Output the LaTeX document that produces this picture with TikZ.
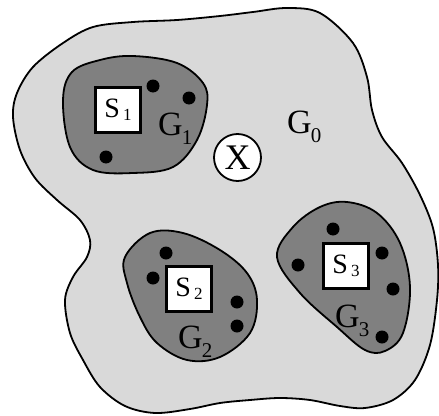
\documentclass[tikz,border=0pt]{standalone}
\usepackage{fontspec}
\setmainfont{Liberation Serif}
\usetikzlibrary{positioning}

\tikzset{
  region/.style={draw,line width=1.8pt},
  srcbox/.style={draw,line width=3.5pt,fill=white,minimum size=45pt,inner sep=0pt,font=\fontsize{28}{28}\selectfont},
  dot/.style={circle,fill=black,minimum size=13pt,inner sep=0pt},
  glabel/.style={font=\fontsize{34}{34}\selectfont,inner sep=0pt,anchor=base west},
}
\newcommand{\gname}[1]{G\kern-1pt\raisebox{-9pt}{\fontsize{21}{21}\selectfont #1}}
\newcommand{\sname}[1]{S\kern3pt\raisebox{-3pt}{\fontsize{17}{17}\selectfont #1}}

\begin{document}
\begin{tikzpicture}[x=1pt,y=-1pt]
  \useasboundingbox (0,0) rectangle (439,415);

  % Outer region G0
  \draw[region,fill=black!15] plot[smooth cycle,tension=0.55] coordinates {
    (13,117) (17,93) (33,67) (63,43) (93,27) (133,22) (177,20) (220,16)
    (253,12) (287,8) (320,13) (353,43) (367,77) (372,110) (382,137)
    (402,163) (420,195) (433,228) (438,265) (437,300) (430,345) (415,380)
    (393,400) (365,408) (340,406) (310,400) (280,398) (250,400) (220,403)
    (190,409) (155,413) (125,406) (100,387) (83,360) (70,333) (65,300)
    (73,277) (87,257) (90,240) (80,220) (57,200) (35,178) (20,150)};

  % Inner regions
  \draw[region,fill=black!50] plot[smooth cycle,tension=0.6] coordinates {
    (63,100) (72,72) (100,60) (133,56) (177,63) (203,83) (207,105)
    (197,140) (173,167) (133,173) (93,170) (70,147)};
  \draw[region,fill=black!50] plot[smooth cycle,tension=0.6] coordinates {
    (125,257) (150,233) (183,233) (220,250) (247,273) (257,300) (250,333)
    (220,357) (187,360) (157,343) (140,317) (127,283)};
  \draw[region,fill=black!50] plot[smooth cycle,tension=0.6] coordinates {
    (277,257) (293,227) (320,207) (347,202) (377,213) (400,243) (410,287)
    (403,333) (385,351) (365,350) (337,327) (300,293)};

  % Boxes and the centre node
  \node[srcbox] (s1) at (118,110) {\sname{1}};
  \node[srcbox] (s2) at (189,289) {\sname{2}};
  \node[srcbox] (s3) at (346,266) {\sname{3}};
  \node[draw,circle,line width=1.8pt,fill=white,minimum size=47pt,inner sep=0pt,
        font=\fontsize{36}{36}\selectfont] (x) at (237.5,157.5) {X};

  % Dots
  \foreach \name/\pos in {d11/{(153,86)},d12/{(189,98)},d13/{(106,157)},
      d21/{(166,253)},d22/{(153,278)},d23/{(237,302)},d24/{(237,326)},
      d31/{(333,229)},d32/{(298,265)},d33/{(382,253)},d34/{(393,289)},d35/{(382,337)}}
    \node[dot] (\name) at \pos {};

  % Labels
  \node[glabel] (g0) at (287,133) {\gname{0}};
  \node[glabel] (g1) at (158,135) {\gname{1}};
  \node[glabel] (g2) at (178,348) {\gname{2}};
  \node[glabel] (g3) at (335,327) {\gname{3}};
\end{tikzpicture}
\end{document}
